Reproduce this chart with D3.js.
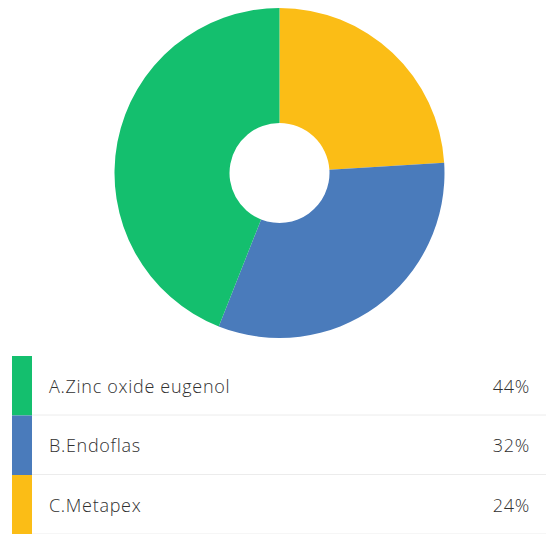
<!DOCTYPE html>
<html>
<head>
<meta charset="utf-8">
<script src="https://cdn.jsdelivr.net/npm/d3@7"></script>
<style>
  html, body { margin: 0; padding: 0; background: #fff; }
  svg { display: block; }
</style>
</head>
<body>
<svg id="chart" width="546" height="534"></svg>
<script>
const categories = ["A.Zinc oxide eugenol", "B.Endoflas", "C.Metapex"];
const values = [44, 32, 24];
const colors = ["#14bf6e", "#4a7bbb", "#fbbd16"];
const percentLabels = ["44%", "32%", "24%"];

const svg = d3.select("#chart");
const W = 546;

const data = categories.map((c, i) => ({ name: c, value: values[i], color: colors[i], label: percentLabels[i] }));

// Donut: drawn clockwise from top in reverse order (C, B, A)
const pie = d3.pie().sort(null).value(d => d.value);
const arcs = pie(data.slice().reverse());
const arc = d3.arc().innerRadius(50).outerRadius(165);

const g = svg.append("g").attr("transform", "translate(279.5,173)");
g.selectAll("path")
  .data(arcs)
  .join("path")
  .attr("d", arc)
  .attr("fill", d => d.data.color);

// Legend table
const rowTop = 356, rowH = 59.5;
const y = d3.scaleBand().domain(categories).range([rowTop, rowTop + rowH * categories.length]).padding(0);

const rows = svg.append("g").selectAll("g.row")
  .data(data)
  .join("g")
  .attr("class", "row")
  .attr("transform", d => `translate(0,${y(d.name)})`);

rows.append("rect")
  .attr("x", 12).attr("y", 0)
  .attr("width", 20).attr("height", y.bandwidth())
  .attr("fill", d => d.color);

rows.append("line")
  .attr("x1", 32).attr("x2", W)
  .attr("y1", y.bandwidth() - 0.5).attr("y2", y.bandwidth() - 0.5)
  .attr("stroke", "#ececec").attr("stroke-width", 1);

rows.append("text")
  .attr("x", 49).attr("y", 36.5)
  .attr("font-family", "'Open Sans', sans-serif")
  .attr("font-weight", 300)
  .attr("font-size", 18)
  .attr("letter-spacing", 0.7)
  .attr("fill", "#303030")
  .text(d => d.name);

rows.append("text")
  .attr("x", 530).attr("y", 36.5)
  .attr("text-anchor", "end")
  .attr("font-family", "'Open Sans', sans-serif")
  .attr("font-weight", 300)
  .attr("font-size", 18)
  .attr("letter-spacing", 0.7)
  .attr("fill", "#303030")
  .text(d => d.label);
</script>
</body>
</html>
